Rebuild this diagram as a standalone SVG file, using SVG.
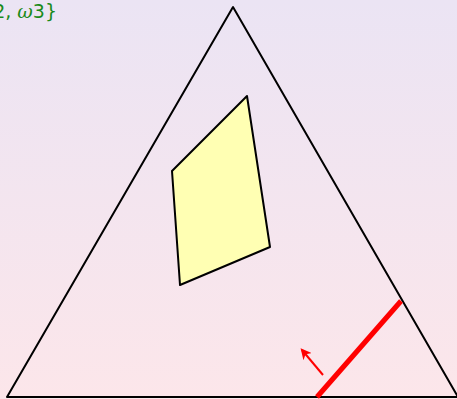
<svg xmlns="http://www.w3.org/2000/svg" width="457" height="399" viewBox="0 0 457 399">
<defs>
<linearGradient id="bg" x1="0" y1="0" x2="0" y2="1">
<stop offset="0" stop-color="#ebe4f4"/>
<stop offset="1" stop-color="#fce6ea"/>
</linearGradient>
<marker id="ah" viewBox="0 0 10 10" refX="8" refY="5" markerWidth="5.5" markerHeight="5.5" orient="auto">
<path d="M0,0 L10,5 L0,10 L3,5 Z" fill="#ff0000"/>
</marker>
<style>
.edge{fill:none;stroke:#000;stroke-width:2;stroke-linejoin:round}
.poly{fill:#ffffb3;stroke:#000;stroke-width:2;stroke-linejoin:round}
.lbl{font-family:"DejaVu Sans",sans-serif;font-size:19px;fill:#1a8a1a}
.w{font-family:"DejaVu Serif",serif;font-style:italic}
</style>
</defs>
<rect x="0" y="0" width="457" height="399" fill="url(#bg)"/>
<text class="lbl" x="57" y="18" text-anchor="end">{<tspan class="w">ω</tspan>1, <tspan class="w">ω</tspan>2, <tspan class="w">ω</tspan>3}</text>
<g id="simplex">
<polygon class="edge" points="233,7 7,397 458,397"/>
</g>
<g id="region">
<polygon class="poly" points="172,171 247,96 270,247 180,285"/>
</g>
<g id="connectors">
<line x1="317" y1="397" x2="401" y2="301" stroke="#ff0000" stroke-width="5"/>
<line x1="323" y1="375" x2="302" y2="350" stroke="#ff0000" stroke-width="2" marker-end="url(#ah)"/>
</g>
</svg>
